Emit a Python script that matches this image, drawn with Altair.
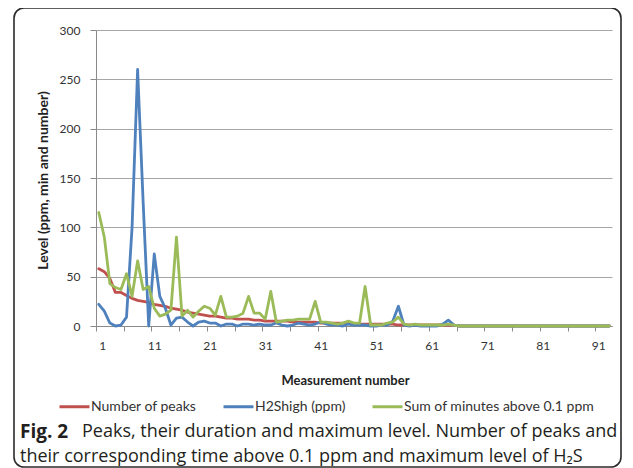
import altair as alt
import pandas as pd

# ---------------- data ----------------
measurement = list(range(1, 94))

number_of_peaks = [58, 55, 48, 34, 34, 31, 28, 26, 25, 24,
                   22, 21, 20, 18, 17, 16, 14, 13, 12, 11,
                   10, 10, 9, 8, 8, 7, 7, 7, 6, 6,
                   5, 5, 5, 5, 5, 4, 4, 4, 4, 4,
                   3, 3, 3, 3, 3, 3, 2, 2, 2, 2,
                   2, 2, 2, 2, 1, 1, 1, 1, 1, 1,
                   1, 1, 1, 1, 1, 0, 0, 0, 0, 0,
                   0, 0, 0, 0, 0, 0, 0, 0, 0, 0,
                   0, 0, 0, 0, 0, 0, 0, 0, 0, 0,
                   0, 0, 0]

h2s_high = [22, 15, 3, 0, 1, 9, 100, 260, 125, 0,
            73, 30, 18, 1, 8, 9, 4, 0, 4, 5,
            3, 3, 0, 2, 2, 0, 2, 2, 1, 2,
            1, 1, 3, 1, 0, 1, 3, 2, 1, 2,
            4, 2, 1, 1, 0, 2, 1, 1, 1, 0,
            0, 1, 1, 5, 20, 1, 0, 1, 0, 0,
            0, 0, 2, 6, 1, 0, 0, 0, 0, 0,
            0, 0, 0, 0, 0, 0, 0, 0, 0, 0,
            0, 0, 0, 0, 0, 0, 0, 0, 0, 0,
            0, 0, 0]

sum_minutes = [115, 90, 43, 39, 37, 53, 30, 66, 37, 40,
               18, 10, 12, 16, 90, 10, 16, 9, 15, 20,
               18, 11, 30, 9, 9, 10, 13, 30, 13, 13,
               7, 35, 4, 5, 6, 6, 7, 7, 7, 25,
               4, 4, 3, 2, 3, 5, 3, 3, 40, 1,
               1, 1, 3, 4, 9, 2, 1, 2, 1, 1,
               1, 1, 1, 2, 1, 0, 0, 0, 0, 0,
               0, 0, 0, 0, 0, 0, 0, 0, 0, 0,
               0, 0, 0, 0, 0, 0, 0, 0, 0, 0,
               0, 0, 0]

series_names = ["Number of peaks", "H2Shigh (ppm)", "Sum of minutes above 0.1 ppm"]
series_colors = ["#C0504D", "#4F81BD", "#9BBB59"]

y_ticks = [0, 50, 100, 150, 200, 250, 300]
x_tick_positions = [0.5 + 5 * i for i in range(19)]

x_title = "Measurement number"
y_title = "Level (ppm, min and number)"
caption_bold = ["Fig. 2"]
caption_line1 = ["Peaks, their duration and maximum level. Number of peaks and"]
caption_line2 = ["their corresponding time above 0.1 ppm and maximum level of H₂S"]

# ---------------- table ----------------
rows = []
for k, (name, vals) in enumerate(zip(series_names, [number_of_peaks, h2s_high, sum_minutes])):
    for m, v in zip(measurement, vals):
        rows.append({"Measurement": m, "Level": v, "Series": name, "k": k})
df = pd.DataFrame(rows)

W, H = 516, 296
FONT = "Lato"
CAP_FONT = "Open Sans"
CAP_SIZE = 18

lines = alt.Chart(df).mark_line(strokeWidth=2.8, strokeJoin="round", strokeCap="round").encode(
    x=alt.X("Measurement:Q",
            scale=alt.Scale(domain=[0.5, 93.5], nice=False, zero=False),
            axis=alt.Axis(values=x_tick_positions,
                          labelExpr="datum.value % 10 == 0.5 ? toString(datum.value + 0.5) : ''",
                          labelOffset=2.8, labelOverlap=False, grid=False,
                          tickSize=5, labelPadding=9,
                          title=x_title, titleX=249, titleY=54, titleFontSize=13,
                          titleBaseline="middle", titleAlign="center")),
    y=alt.Y("Level:Q",
            scale=alt.Scale(domain=[0, 300], nice=False),
            axis=alt.Axis(values=y_ticks, grid=True, tickSize=6, labelPadding=10,
                          title=y_title, titleX=-53, titleY=150, titleAngle=270,
                          titleFontSize=14,
                          titleBaseline="middle", titleAlign="center")),
    color=alt.Color("Series:N",
                    scale=alt.Scale(domain=series_names, range=series_colors),
                    legend=alt.Legend(orient="none", legendX=-38, legendY=360,
                                      direction="horizontal", title=None,
                                      symbolType="stroke", symbolSize=900,
                                      symbolStrokeWidth=3, labelFontSize=14,
                                      labelFont=FONT, labelColor="#333333",
                                      labelLimit=0,
                                      labelOffset=0, columnPadding=20)),
    order=alt.Order("k:Q"),
    detail="Series:N",
)

frame = alt.Chart(pd.DataFrame({"d": [0]})).mark_rect(
    fillOpacity=0, stroke="#2b2b2b", strokeWidth=1.6, cornerRadius=10
).encode(x=alt.value(-82), x2=alt.value(525), y=alt.value(-22), y2=alt.value(437))

cap_bold = alt.Chart(pd.DataFrame({"t": caption_bold})).mark_text(
    align="left", baseline="middle", font=CAP_FONT, fontSize=CAP_SIZE + 1,
    fontWeight="bold", color="#231f20"
).encode(text="t:N", x=alt.value(-76), y=alt.value(402))

cap1 = alt.Chart(pd.DataFrame({"t": caption_line1})).mark_text(
    align="left", baseline="middle", font=CAP_FONT, fontSize=CAP_SIZE, color="#231f20"
).encode(text="t:N", x=alt.value(-14), y=alt.value(402))

cap2 = alt.Chart(pd.DataFrame({"t": caption_line2})).mark_text(
    align="left", baseline="middle", font=CAP_FONT, fontSize=CAP_SIZE, color="#231f20"
).encode(text="t:N", x=alt.value(-76), y=alt.value(427))

chart = alt.layer(frame, lines, cap_bold, cap1, cap2).properties(
    width=W, height=H,
    autosize=alt.AutoSizeParams(type="none"),
    padding={"left": 88, "top": 22, "right": 12, "bottom": 142},
).configure_view(strokeWidth=0).configure_axis(
    labelFont=FONT, labelFontSize=12, labelColor="#333333",
    titleFont=FONT, titleFontSize=12, titleFontWeight="bold", titleColor="#222222",
    domainColor="#8a8a8a", tickColor="#8a8a8a", gridColor="#a6a6a6", gridWidth=1,
)

chart.save("out.html", embed_options={"renderer": "svg", "actions": False})
